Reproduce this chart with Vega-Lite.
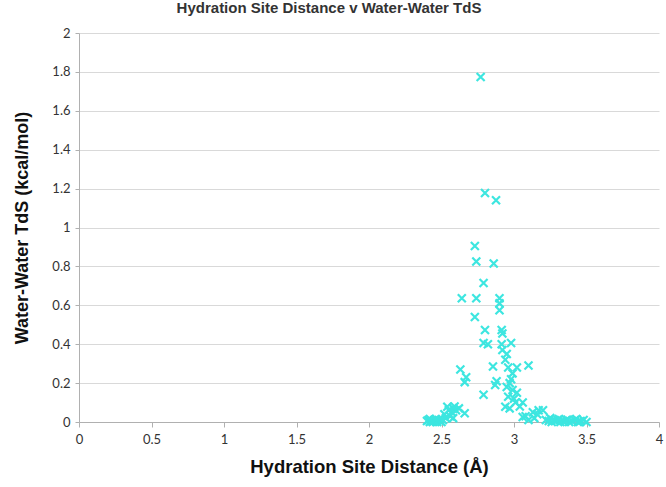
{
  "$schema": "https://vega.github.io/schema/vega-lite/v6.json",
  "width": 580,
  "height": 389,
  "autosize": {"type": "none"},
  "padding": {"left": 79, "top": 33, "right": 7, "bottom": 65},
  "background": "white",
  "title": {
    "text": "Hydration Site Distance v Water-Water TdS",
    "font": "Liberation Sans, Arial, sans-serif",
    "fontSize": 15,
    "fontWeight": "bold",
    "color": "#333333",
    "anchor": "middle",
    "dx": -40,
    "offset": 11
  },
  "config": {
    "view": {"stroke": null},
    "axis": {
      "labelFont": "Lato, sans-serif",
      "labelFontSize": 13,
      "labelColor": "#333333",
      "titleFont": "Liberation Sans, Arial, sans-serif",
      "titleFontWeight": "bold",
      "titleColor": "#111111",
      "domainColor": "#b0b0b0",
      "tickColor": "#b0b0b0",
      "gridColor": "#d9d9d9"
    }
  },
  "data": {
    "values": [
      {"d": 2.77, "tds": 1.774}, {"d": 2.80, "tds": 1.177}, {"d": 2.876, "tds": 1.14},
      {"d": 2.73, "tds": 0.905}, {"d": 2.74, "tds": 0.825}, {"d": 2.86, "tds": 0.815},
      {"d": 2.79, "tds": 0.715}, {"d": 2.64, "tds": 0.636}, {"d": 2.74, "tds": 0.636},
      {"d": 2.90, "tds": 0.636}, {"d": 2.90, "tds": 0.61}, {"d": 2.90, "tds": 0.575},
      {"d": 2.73, "tds": 0.54}, {"d": 2.80, "tds": 0.473}, {"d": 2.915, "tds": 0.473},
      {"d": 2.92, "tds": 0.455}, {"d": 2.79, "tds": 0.406}, {"d": 2.82, "tds": 0.40},
      {"d": 2.915, "tds": 0.40}, {"d": 2.98, "tds": 0.406}, {"d": 2.92, "tds": 0.37},
      {"d": 2.95, "tds": 0.35}, {"d": 2.63, "tds": 0.27}, {"d": 2.67, "tds": 0.23},
      {"d": 2.66, "tds": 0.205}, {"d": 2.855, "tds": 0.285}, {"d": 2.94, "tds": 0.32},
      {"d": 2.96, "tds": 0.28}, {"d": 3.02, "tds": 0.28}, {"d": 3.10, "tds": 0.29},
      {"d": 2.99, "tds": 0.25}, {"d": 2.88, "tds": 0.21}, {"d": 2.95, "tds": 0.18},
      {"d": 2.99, "tds": 0.165}, {"d": 3.02, "tds": 0.15}, {"d": 2.96, "tds": 0.13},
      {"d": 3.01, "tds": 0.10}, {"d": 2.79, "tds": 0.14}, {"d": 2.87, "tds": 0.19},
      {"d": 2.97, "tds": 0.20}, {"d": 2.98, "tds": 0.22}, {"d": 2.94, "tds": 0.078},
      {"d": 3.06, "tds": 0.10}, {"d": 3.06, "tds": 0.026}, {"d": 3.13, "tds": 0.05},
      {"d": 3.17, "tds": 0.06}, {"d": 3.20, "tds": 0.06}, {"d": 3.28, "tds": 0.01},
      {"d": 2.97, "tds": 0.07}, {"d": 3.00, "tds": 0.12}, {"d": 3.04, "tds": 0.08},
      {"d": 3.08, "tds": 0.03}, {"d": 3.10, "tds": 0.01}, {"d": 3.14, "tds": 0.02},
      {"d": 3.16, "tds": 0.04},
      {"d": 2.54, "tds": 0.078}, {"d": 2.55, "tds": 0.06}, {"d": 2.57, "tds": 0.05},
      {"d": 2.58, "tds": 0.07}, {"d": 2.59, "tds": 0.08}, {"d": 2.60, "tds": 0.06},
      {"d": 2.66, "tds": 0.045}, {"d": 2.58, "tds": 0.02}, {"d": 2.56, "tds": 0.03},
      {"d": 2.52, "tds": 0.04}, {"d": 2.53, "tds": 0.02}, {"d": 2.62, "tds": 0.07},
      {"d": 2.40, "tds": 0.005}, {"d": 2.41, "tds": 0.01}, {"d": 2.42, "tds": 0.0},
      {"d": 2.43, "tds": 0.005}, {"d": 2.44, "tds": 0.0}, {"d": 2.45, "tds": 0.01},
      {"d": 2.46, "tds": 0.005}, {"d": 2.47, "tds": 0.0}, {"d": 2.48, "tds": 0.01},
      {"d": 2.49, "tds": 0.005}, {"d": 2.50, "tds": 0.0}, {"d": 2.51, "tds": 0.01},
      {"d": 2.42, "tds": 0.015}, {"d": 2.46, "tds": 0.015},
      {"d": 3.22, "tds": 0.01}, {"d": 3.24, "tds": 0.005}, {"d": 3.26, "tds": 0.0},
      {"d": 3.28, "tds": 0.005}, {"d": 3.30, "tds": 0.01}, {"d": 3.32, "tds": 0.0},
      {"d": 3.34, "tds": 0.005}, {"d": 3.36, "tds": 0.01}, {"d": 3.38, "tds": 0.0},
      {"d": 3.40, "tds": 0.005}, {"d": 3.42, "tds": 0.01}, {"d": 3.44, "tds": 0.0},
      {"d": 3.46, "tds": 0.005}, {"d": 3.48, "tds": 0.01}, {"d": 3.50, "tds": 0.0},
      {"d": 3.31, "tds": 0.015}, {"d": 3.37, "tds": 0.012}, {"d": 3.43, "tds": 0.015},
      {"d": 3.25, "tds": 0.02}, {"d": 3.35, "tds": 0.0}, {"d": 3.45, "tds": 0.0}
    ]
  },
  "mark": {
    "type": "point",
    "shape": "M-1,-1L1,1M-1,1L1,-1",
    "filled": false,
    "size": 64,
    "strokeWidth": 2.2,
    "color": "#3DE6E0",
    "opacity": 1
  },
  "encoding": {
    "x": {
      "field": "d",
      "type": "quantitative",
      "scale": {"domain": [0, 4], "nice": false, "zero": true},
      "axis": {
        "title": "Hydration Site Distance (Å)",
        "titleFontSize": 18.5,
        "titlePadding": 11,
        "format": "~g",
        "values": [0, 0.5, 1, 1.5, 2, 2.5, 3, 3.5, 4],
        "grid": false,
        "tickSize": 5,
        "labelPadding": 6,
        "labelFlush": false
      }
    },
    "y": {
      "field": "tds",
      "type": "quantitative",
      "scale": {"domain": [0, 2], "nice": false},
      "axis": {
        "title": "Water-Water TdS (kcal/mol)",
        "titleFontSize": 18,
        "titlePadding": 20,
        "format": "~g",
        "values": [0, 0.2, 0.4, 0.6, 0.8, 1, 1.2, 1.4, 1.6, 1.8, 2],
        "grid": true,
        "tickSize": 4,
        "labelPadding": 5,
        "labelFlush": false
      }
    }
  }
}
